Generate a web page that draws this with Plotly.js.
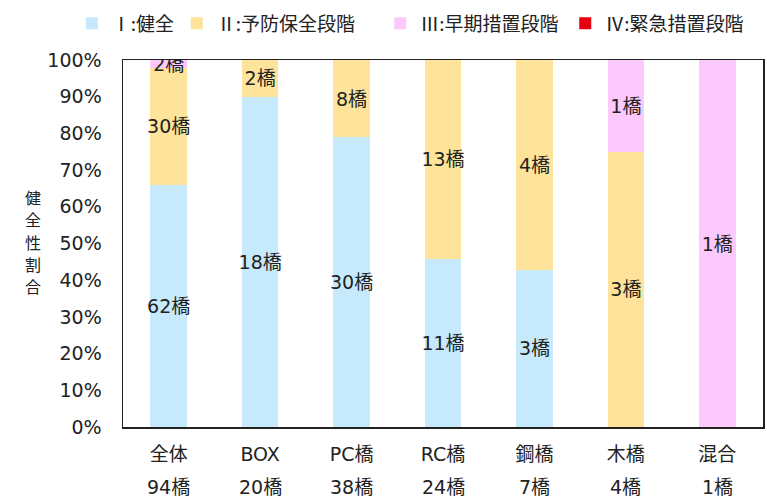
<!DOCTYPE html>
<html>
<head>
<meta charset="utf-8">
<script src="https://cdn.plot.ly/plotly-3.0.1.min.js"></script>
<style>
  body { margin: 0; background: #fff; }
  #chart { width: 767px; height: 500px; }
</style>
</head>
<body>
<div id="chart"></div>
<script>
// カテゴリと橋数
const categories = ['全体', 'BOX', 'PC橋', 'RC橋', '鋼橋', '木橋', '混合'];
const totals = ['94橋', '20橋', '38橋', '24橋', '7橋', '4橋', '1橋'];

// 健全性ごとの橋数
const kenzen   = [62, 18, 30, 11, 3, 0, 0];
const yobou    = [30, 2, 8, 13, 4, 3, 0];
const souki    = [2, 0, 0, 0, 0, 1, 1];
const kinkyuu  = [0, 0, 0, 0, 0, 0, 0];

const seriesNames = ['Ⅰ:健全', 'Ⅱ:予防保全段階', 'Ⅲ:早期措置段階', 'Ⅳ:緊急措置段階'];
const seriesColors = ['#c6eafc', '#fde49a', '#fbc9fb', '#e60012'];
const seriesValues = [kenzen, yobou, souki, kinkyuu];
const legendIds = ['legend', 'legend2', 'legend3', 'legend4'];
const legendX = [-0.080, 0.084, 0.402, 0.691];

// 縦書きの軸タイトル
const yTitleChars = ['健', '全', '性', '割', '合'];

const FONT = '"Noto Sans CJK JP", "Noto Sans", sans-serif';
const NUMFONT = '"DejaVu Sans", "Noto Sans CJK JP", sans-serif';

const data = seriesValues.map((vals, i) => ({
    type: 'bar',
    x: categories,
    y: vals,
    name: seriesNames[i],
    legend: legendIds[i],
    marker: { color: seriesColors[i] },
    text: vals.map(v => v > 0 ? v + '橋' : ''),
    textposition: 'inside',
    insidetextanchor: 'middle',
    textangle: 0,
    constraintext: 'none',
    insidetextfont: { family: NUMFONT, size: 19, color: '#222' },
    hoverinfo: 'skip'
}));

// 2行目の橋数ラベル
const annotations = categories.map((c, i) => ({
    x: c, xref: 'x',
    y: -0.164, yref: 'paper',
    yanchor: 'middle',
    text: totals[i],
    showarrow: false,
    font: { family: NUMFONT, size: 19, color: '#222' }
}));

// 1文字ずつ縦に並べる
yTitleChars.forEach((ch, i) => {
    annotations.push({
        x: -0.154, xref: 'paper',
        y: 0.626 - i * 0.0605, yref: 'paper',
        yanchor: 'middle',
        text: ch,
        showarrow: false,
        borderpad: 0,
        font: { family: FONT, size: 16, color: '#222' }
    });
});

const layout = {
    width: 767, height: 500,
    margin: { l: 123, r: 4, t: 55, b: 73 },
    paper_bgcolor: '#fff', plot_bgcolor: '#fff',
    barmode: 'stack',
    barnorm: 'percent',
    bargap: 0.6,
    font: { family: FONT, color: '#222' },
    xaxis: {
        showgrid: false, ticks: '',
        showline: true, linecolor: '#222', linewidth: 1.5, mirror: true,
        tickfont: { family: NUMFONT, size: 19, color: '#222' },
        ticklabelstandoff: 10
    },
    yaxis: {
        range: [0, 100], dtick: 10, ticksuffix: '%',
        showgrid: false, zeroline: false, ticks: '',
        showline: true, linecolor: '#222', linewidth: 1.5, mirror: true,
        tickfont: { family: NUMFONT, size: 19, color: '#222' },
        ticklabelstandoff: 16
    },
    annotations: annotations,
    showlegend: true
};

legendIds.forEach((id, i) => {
    layout[id] = {
        orientation: 'h',
        x: legendX[i], xanchor: 'left',
        y: 1.1, yanchor: 'middle',
        font: { family: FONT, size: 19, color: '#222' },
        bgcolor: 'rgba(0,0,0,0)',
        itemwidth: 30
    };
});

Plotly.newPlot('chart', data, layout, { displayModeBar: false, staticPlot: true });
</script>
</body>
</html>
